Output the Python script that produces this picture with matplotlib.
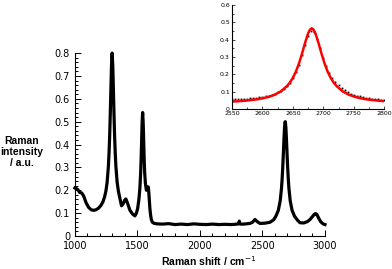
import matplotlib
matplotlib.use("Agg")
import matplotlib.pyplot as plt
from matplotlib.ticker import MultipleLocator

# main spectrum
shift = [1000, 1020, 1040, 1055, 1070, 1090, 1110, 1130, 1150, 1170, 1190, 1210,
         1225, 1238, 1248, 1258, 1268, 1273, 1278, 1283, 1288, 1293, 1298, 1303,
         1308, 1313, 1318, 1323, 1328, 1338, 1348, 1358, 1373, 1385, 1400, 1408,
         1420, 1440, 1460, 1480, 1492, 1502, 1512, 1520, 1526, 1530, 1534, 1538,
         1542, 1546, 1550, 1554, 1558, 1564, 1572, 1580, 1586, 1590, 1595, 1600,
         1606, 1612, 1620, 1635, 1660, 1700, 1750, 1800, 1850, 1900, 1950, 2000,
         2050, 2100, 2150, 2200, 2250, 2300, 2310, 2315, 2320, 2350, 2400, 2420,
         2440, 2460, 2480, 2520, 2560, 2590, 2607, 2627, 2642, 2652, 2657, 2662,
         2667, 2672, 2677, 2682, 2687, 2692, 2697, 2702, 2707, 2712, 2722, 2737,
         2757, 2782, 2800, 2830, 2860, 2880, 2900, 2915, 2925, 2935, 2950, 2965,
         2980, 2990, 3000]
intensity = [0.21, 0.205, 0.19, 0.188, 0.175, 0.145, 0.125, 0.115, 0.112, 0.115, 0.122, 0.135,
             0.15, 0.172, 0.196, 0.235, 0.305, 0.36, 0.433, 0.53, 0.642, 0.746, 0.80, 0.746,
             0.642, 0.53, 0.433, 0.36, 0.305, 0.235, 0.196, 0.17, 0.132, 0.14, 0.158, 0.162,
             0.145, 0.113, 0.097, 0.088, 0.10, 0.12, 0.16, 0.21, 0.275, 0.34, 0.42, 0.50,
             0.54, 0.50, 0.42, 0.34, 0.28, 0.23, 0.20, 0.205, 0.215, 0.20, 0.16, 0.12,
             0.09, 0.07, 0.06, 0.055, 0.053, 0.052, 0.054, 0.05, 0.052, 0.05, 0.053, 0.051,
             0.05, 0.052, 0.05, 0.051, 0.05, 0.052, 0.055, 0.065, 0.052, 0.052, 0.055, 0.06,
             0.072, 0.062, 0.055, 0.056, 0.06, 0.071, 0.086, 0.112, 0.154, 0.207, 0.246, 0.296,
             0.357, 0.423, 0.478, 0.50, 0.478, 0.423, 0.357, 0.296, 0.246, 0.207, 0.154, 0.112,
             0.086, 0.068, 0.058, 0.057, 0.063, 0.072, 0.085, 0.095, 0.098, 0.094, 0.078, 0.063,
             0.055, 0.052, 0.05]

# inset: measured 2D band (dots)
shift_2d = [2550, 2555, 2560, 2565, 2570, 2575, 2580, 2585, 2590, 2595, 2600, 2605,
            2610, 2615, 2620, 2625, 2630, 2635, 2640, 2645, 2650, 2655, 2660, 2665,
            2670, 2675, 2680, 2685, 2690, 2695, 2700, 2705, 2710, 2715, 2720, 2725,
            2730, 2735, 2740, 2745, 2750, 2755, 2760, 2765, 2770, 2775, 2780, 2785,
            2790, 2795, 2800]
int_2d = [0.055, 0.056, 0.056, 0.057, 0.058, 0.059, 0.061, 0.062, 0.065, 0.067, 0.070, 0.073,
          0.077, 0.082, 0.088, 0.095, 0.104, 0.116, 0.132, 0.152, 0.178, 0.212, 0.255, 0.310,
          0.370, 0.422, 0.448, 0.445, 0.405, 0.350, 0.295, 0.245, 0.207, 0.178, 0.155, 0.136,
          0.120, 0.107, 0.097, 0.089, 0.082, 0.077, 0.072, 0.068, 0.064, 0.061, 0.059, 0.057,
          0.055, 0.053, 0.051]

# inset: fitted curve (red)
fit_x = [2550, 2560, 2575, 2590, 2600, 2610, 2620, 2630, 2640, 2645, 2650, 2655,
         2660, 2665, 2670, 2675, 2678, 2681, 2684, 2687, 2692, 2697, 2702, 2707,
         2712, 2717, 2722, 2732, 2742, 2752, 2762, 2772, 2787, 2800]
fit_y = [0.0425, 0.0445, 0.0487, 0.055, 0.061, 0.0697, 0.082, 0.101, 0.131, 0.152, 0.180, 0.216,
         0.2625, 0.319, 0.381, 0.436, 0.457, 0.465, 0.457, 0.436, 0.381, 0.319, 0.2625, 0.216,
         0.180, 0.152, 0.131, 0.101, 0.082, 0.0697, 0.061, 0.055, 0.0487, 0.045]

fig = plt.figure(figsize=(3.92, 2.69), dpi=100)

ax = fig.add_axes([0.191, 0.1227, 0.638, 0.680])
ax.plot(shift, intensity, color="black", lw=2.3, solid_joinstyle="round", clip_on=False)
ax.set_xlim(1000, 3000)
ax.set_ylim(0, 0.8)
ax.spines["top"].set_visible(False)
ax.spines["right"].set_visible(False)
ax.xaxis.set_major_locator(MultipleLocator(500))
ax.xaxis.set_minor_locator(MultipleLocator(100))
ax.yaxis.set_major_locator(MultipleLocator(0.1))
ax.yaxis.set_minor_locator(MultipleLocator(0.02))
ax.tick_params(which="both", direction="in", labelsize=7, width=0.7)
ax.tick_params(which="major", length=4)
ax.tick_params(which="minor", length=2)
ax.set_yticks([0, 0.1, 0.2, 0.3, 0.4, 0.5, 0.6, 0.7, 0.8])
ax.set_yticklabels(["0", "0.1", "0.2", "0.3", "0.4", "0.5", "0.6", "0.7", "0.8"])

fig.text(22 / 392, 1 - 152 / 269, "Raman\nintensity\n/ a.u.", ha="center", va="center",
         fontsize=7.5, fontweight="bold", family="Liberation Sans", linespacing=1.15)
fig.text(209 / 392, 1 - 261 / 269, "Raman shift / cm$^{-1}$", ha="center", va="center",
         fontsize=7.5, fontweight="bold", family="Liberation Sans")

ins = fig.add_axes([0.592, 0.595, 0.388, 0.387])
ins.plot(shift_2d, int_2d, "s", color="black", ms=1.3, mew=0)
ins.plot(fit_x, fit_y, color="red", lw=1.8)
ins.set_xlim(2550, 2800)
ins.set_ylim(0, 0.6)
ins.spines["top"].set_visible(False)
ins.spines["right"].set_visible(False)
ins.xaxis.set_major_locator(MultipleLocator(50))
ins.xaxis.set_minor_locator(MultipleLocator(25))
ins.yaxis.set_major_locator(MultipleLocator(0.1))
ins.yaxis.set_minor_locator(MultipleLocator(0.05))
ins.tick_params(which="both", direction="in", labelsize=4.5, width=0.5, pad=1.5)
ins.tick_params(which="major", length=2.5)
ins.tick_params(which="minor", length=1.5)
ins.set_yticks([0, 0.1, 0.2, 0.3, 0.4, 0.5, 0.6])
ins.set_yticklabels(["0", "0.1", "0.2", "0.3", "0.4", "0.5", "0.6"])

fig.savefig("out.png", dpi=100)
